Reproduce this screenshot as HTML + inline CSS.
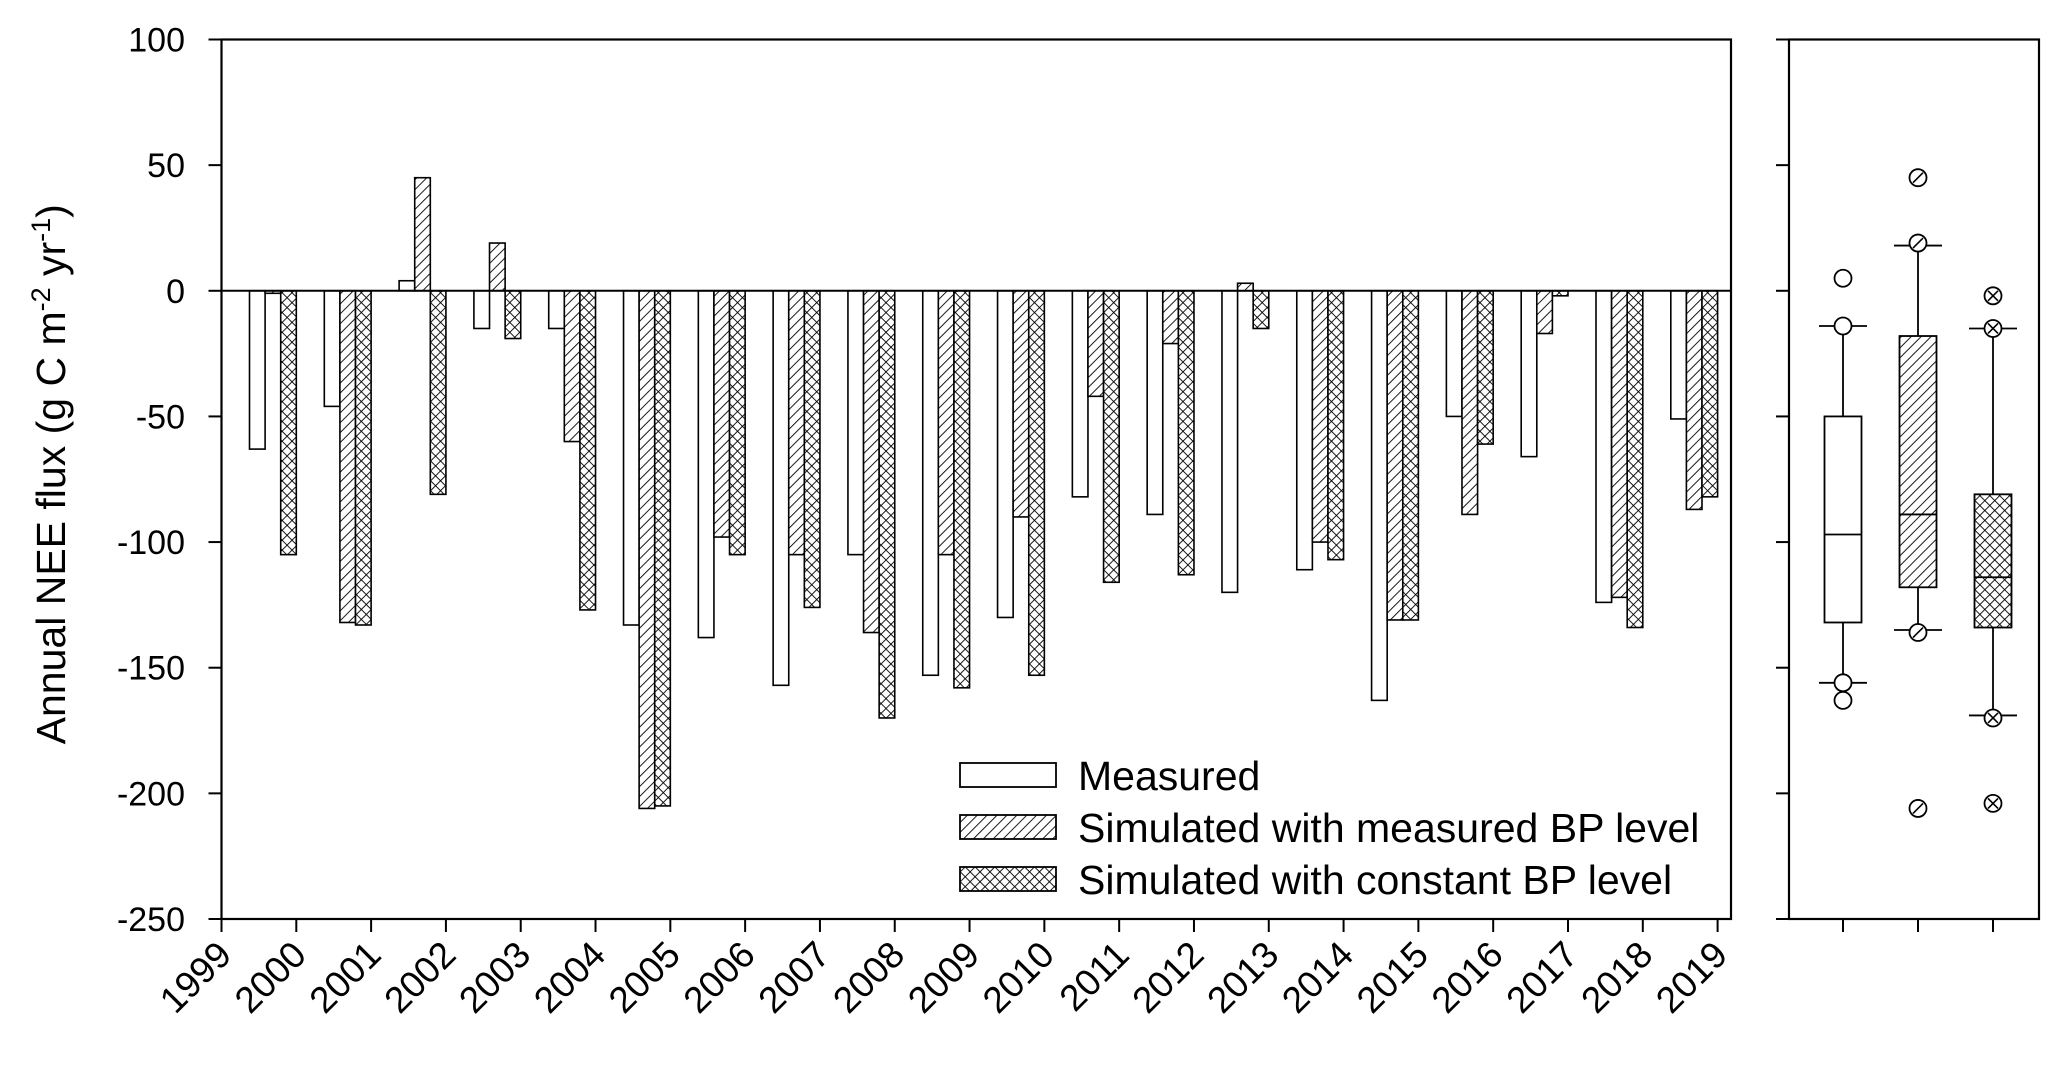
<!DOCTYPE html>
<html><head><meta charset="utf-8">
<style>body{margin:0;background:#fff}svg{display:block}text{font-family:"Liberation Sans",Arial,sans-serif;fill:#000}</style>
</head><body>
<svg id="chart" width="2067" height="1069" viewBox="0 0 2067 1069" xmlns="http://www.w3.org/2000/svg">
<defs>
<pattern id="diag" patternUnits="userSpaceOnUse" width="7" height="7" patternTransform="rotate(45)">
<rect width="7" height="7" fill="#fff"/><line x1="0" y1="0" x2="0" y2="7" stroke="#000" stroke-width="1.8"/></pattern>
<pattern id="cross" patternUnits="userSpaceOnUse" width="7" height="7" patternTransform="rotate(45)">
<rect width="7" height="7" fill="#fff"/><line x1="0" y1="0" x2="0" y2="7" stroke="#000" stroke-width="1.8"/><line x1="0" y1="0" x2="7" y2="0" stroke="#000" stroke-width="1.8"/></pattern>
</defs>
<g id="g"></g>
</svg>
<script>
const years=[2000,2001,2002,2003,2004,2005,2006,2007,2008,2009,2010,2011,2012,2013,2014,2015,2016,2017,2018,2019];
const measured=[-63,-46,4,-15,-15,-133,-138,-157,-105,-153,-130,-82,-89,-120,-111,-163,-50,-66,-124,-51];
const simMeasured=[-1,-132,45,19,-60,-206,-98,-105,-136,-105,-90,-42,-21,3,-100,-131,-89,-17,-122,-87];
const simConstant=[-105,-133,-81,-19,-127,-205,-105,-126,-170,-158,-153,-116,-113,-15,-107,-131,-61,-2,-134,-82];
const yTicks=[100,50,0,-50,-100,-150,-200,-250];
const xTicks=[1999,2000,2001,2002,2003,2004,2005,2006,2007,2008,2009,2010,2011,2012,2013,2014,2015,2016,2017,2018,2019];
const boxMeasured=[-156,-132,-97,-50,-14];
const boxSimMeasured=[-135,-118,-89,-18,18];
const boxSimConstant=[-169,-134,-114,-81,-15];
const outMeasured=[5,-14,-156,-163];
const outSimMeasured=[45,19,-136,-206];
const outSimConstant=[-2,-15,-170,-204];

const NS="http://www.w3.org/2000/svg";
const g=document.getElementById('g');
function mk(tag,attrs,parent){const e=document.createElementNS(NS,tag);for(const k in attrs)e.setAttribute(k,attrs[k]);(parent||g).appendChild(e);return e;}
const plotTop=39.5,plotBot=919,yMin=-250,yMax=100;
const y=v=>plotTop+(yMax-v)/(yMax-yMin)*(plotBot-plotTop);
const x0=221.5,x1=1717.6;
const x=yr=>x0+(yr-1999)/20*(x1-x0);
const BW=15.6;

let e=mk('rect',{x:x0,y:plotTop,width:1731-x0,height:plotBot-plotTop,fill:'none',stroke:'#000','stroke-width':2.2});


yTicks.forEach(v=>{
 let t=mk('line',{x1:x0-13,x2:x0,y1:y(v),y2:y(v),stroke:'#000','stroke-width':2});
 
 
 let l=mk('text',{x:185,y:y(v)+12,'text-anchor':'end','font-size':34});
 l.textContent=v;
 
 
});
xTicks.forEach(yr=>{
 let t=mk('line',{x1:x(yr),x2:x(yr),y1:plotBot,y2:plotBot+13,stroke:'#000','stroke-width':2});
 
 
 let l=mk('text',{x:x(yr)+12,y:plotBot+38,'text-anchor':'end','font-size':37,transform:`rotate(-45 ${x(yr)+12} ${plotBot+38})`});
 l.textContent=yr;
 
 
});
const series=[[measured,'#fff','measured'],[simMeasured,'url(#diag)','sim-measured-bp'],[simConstant,'url(#cross)','sim-constant-bp']];
years.forEach((yr,i)=>{
 series.forEach((s,j)=>{
  const v=s[0][i];const bx=x(yr)-BW*(3-j);
  let r=mk('rect',{x:bx,y:Math.min(y(v),y(0)),width:BW,height:Math.max(Math.abs(y(v)-y(0)),0.5),fill:s[1],stroke:'#000','stroke-width':1.6});
  
  
 });
});
e=mk('line',{x1:x0,x2:1731,y1:y(0),y2:y(0),stroke:'#000','stroke-width':2});


e=mk('text',{x:0,y:0,'text-anchor':'middle','font-size':41,transform:`translate(65 ${(plotTop+plotBot)/2-5}) rotate(-90)`});
e.innerHTML='Annual NEE flux (g C m<tspan dy="-15" font-size="27">-2</tspan><tspan dy="15"> yr</tspan><tspan dy="-15" font-size="27">-1</tspan><tspan dy="15">)</tspan>';


const leg=[['Measured','#fff',763],['Simulated with measured BP level','url(#diag)',815],['Simulated with constant BP level','url(#cross)',867]];
leg.forEach(L=>{
 let r=mk('rect',{x:960,y:L[2],width:96,height:24,fill:L[1],stroke:'#000','stroke-width':1.8});
 
 
 let t=mk('text',{x:1078,y:L[2]+27,'font-size':41});
 t.textContent=L[0];
 
 
});
const bx0=1789,bx1=2039;
e=mk('rect',{x:bx0,y:plotTop,width:bx1-bx0,height:plotBot-plotTop,fill:'none',stroke:'#000','stroke-width':2.2});


yTicks.forEach(v=>{
 let t=mk('line',{x1:bx0-13,x2:bx0,y1:y(v),y2:y(v),stroke:'#000','stroke-width':2});
 
 
});
const boxes=[[boxMeasured,outMeasured,'#fff',1843,'measured',0],[boxSimMeasured,outSimMeasured,'url(#diag)',1918,'sim-measured-bp',1],[boxSimConstant,outSimConstant,'url(#cross)',1993,'sim-constant-bp',2]];
boxes.forEach(B=>{
 const s=B[0],cx=B[3],w=37;
 let t=mk('line',{x1:cx,x2:cx,y1:plotBot,y2:plotBot+13,stroke:'#000','stroke-width':2});
 
 
 let wl=mk('line',{x1:cx,x2:cx,y1:y(s[4]),y2:y(s[0]),stroke:'#000','stroke-width':1.8});
 
 
 [s[0],s[4]].forEach(v=>{
  let c=mk('line',{x1:cx-24,x2:cx+24,y1:y(v),y2:y(v),stroke:'#000','stroke-width':1.8});
  
  
 });
 let r=mk('rect',{x:cx-w/2,y:y(s[3]),width:w,height:y(s[1])-y(s[3]),fill:B[2],stroke:'#000','stroke-width':1.8});
 
 
 let m=mk('line',{x1:cx-w/2,x2:cx+w/2,y1:y(s[2]),y2:y(s[2]),stroke:'#000','stroke-width':1.8});
 
 
 B[1].forEach(v=>{
  let o=mk('circle',{cx:cx,cy:y(v),r:8.5,fill:'#fff',stroke:'#000','stroke-width':1.8});
  
  
  if(B[5]>=1) mk('line',{x1:cx-5,y1:y(v)+5,x2:cx+5,y2:y(v)-5,stroke:'#000','stroke-width':1.6});
  if(B[5]==2) mk('line',{x1:cx-5,y1:y(v)-5,x2:cx+5,y2:y(v)+5,stroke:'#000','stroke-width':1.6});
 });
});
</script>
</body></html>
